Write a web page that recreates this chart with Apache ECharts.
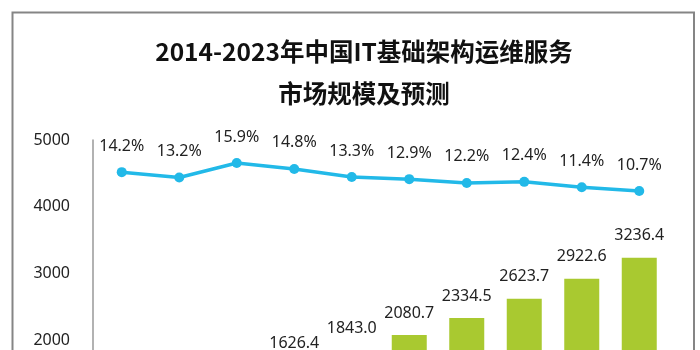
<!DOCTYPE html>
<html>
<head>
<meta charset="utf-8">
<script src="https://cdn.jsdelivr.net/npm/echarts@6/dist/echarts.min.js"></script>
<style>
  html, body { margin: 0; padding: 0; overflow: hidden; background: #fff; }
  #chart { width: 700px; height: 520px; }
</style>
</head>
<body>
<div id="chart"></div>
<script>
// 年份
var years = ["2014", "2015", "2016", "2017", "2018", "2019", "2020", "2021", "2022", "2023"];
// 市场规模（亿元），2014-2016 按增长率倒推估计
var marketSize = [1079.9, 1222.4, 1416.7, 1626.4, 1843.0, 2080.7, 2334.5, 2623.7, 2922.6, 3236.4];
// 增长率 %
var growthRate = [14.2, 13.2, 15.9, 14.8, 13.3, 12.9, 12.2, 12.4, 11.4, 10.7];

var chart = echarts.init(document.getElementById("chart"));
var font = "'Noto Sans', 'Noto Sans CJK SC', sans-serif";

var option = {
  backgroundColor: "#fff",
  animation: false,
  title: {
    text: "2014-2023年中国IT基础架构运维服务\n市场规模及预测",
    left: 359,
    top: 26,
    textAlign: "center",
    textStyle: {
      fontFamily: "'Noto Sans CJK SC', sans-serif",
      fontSize: 24.5,
      fontWeight: "bold",
      color: "#111",
      lineHeight: 42
    }
  },
  graphic: [{
    type: "rect",
    shape: { x: 12.5, y: 12.5, width: 681.5, height: 600 },
    style: { fill: "none", stroke: "#858585", lineWidth: 2 },
    silent: true
  }],
  grid: { left: 93, top: 140, width: 575, height: 334 },
  xAxis: {
    type: "category",
    data: years,
    axisLine: { show: false },
    axisTick: { show: false },
    axisLabel: { show: false }
  },
  yAxis: [
    {
      type: "value",
      min: 0,
      max: 5000,
      interval: 1000,
      splitLine: { show: false },
      axisTick: { show: false },
      axisLine: { show: true, lineStyle: { color: "#999", width: 1.5 } },
      axisLabel: {
        margin: 23,
        fontSize: 16,
        fontFamily: font,
        color: "#222",
        formatter: function (v) { return String(v); }
      }
    },
    {
      type: "value",
      min: -41.85,
      max: 20.17,
      show: false,
      splitLine: { show: false }
    }
  ],
  series: [
    {
      name: "市场规模",
      type: "bar",
      yAxisIndex: 0,
      barWidth: 35,
      itemStyle: { color: "#a9c930" },
      label: {
        show: true,
        position: "top",
        distance: 14,
        fontSize: 16,
        fontFamily: font,
        color: "#222",
        formatter: function (p) { return p.value.toFixed(1); }
      },
      data: marketSize
    },
    {
      name: "增长率",
      type: "line",
      yAxisIndex: 1,
      symbol: "circle",
      symbolSize: 10,
      itemStyle: { color: "#22b9e8" },
      lineStyle: { color: "#22b9e8", width: 3.5 },
      label: {
        show: true,
        position: "top",
        distance: 13,
        fontSize: 16,
        fontFamily: font,
        color: "#222",
        formatter: function (p) { return p.value.toFixed(1) + "%"; }
      },
      data: growthRate
    }
  ]
};
chart.setOption(option);
</script>
</body>
</html>
